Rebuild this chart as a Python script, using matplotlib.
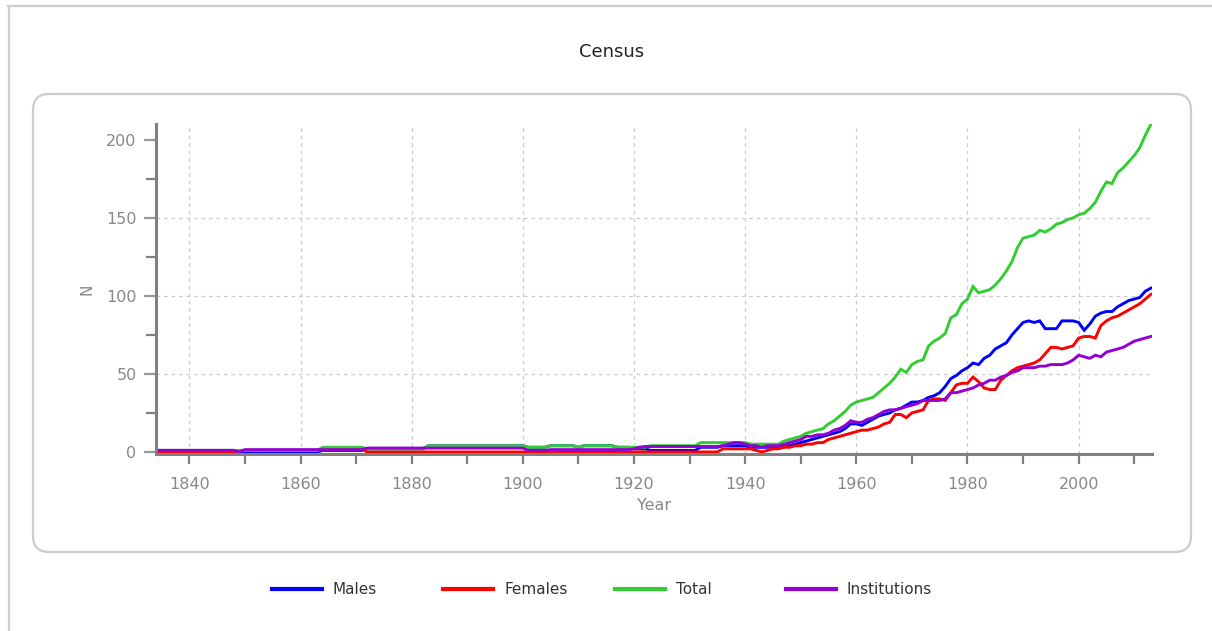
import matplotlib
matplotlib.use('Agg')
import matplotlib.pyplot as plt
from matplotlib.patches import FancyBboxPatch
from matplotlib.lines import Line2D
from matplotlib.transforms import IdentityTransform
from matplotlib.ticker import MultipleLocator

plt.rcParams['font.family'] = ['DejaVu Sans']

years = list(range(1834, 2014))

# yearly counts 1834..2013, one row per decade-ish block
males = (
    [1] * 15 + [0] * 15 + [1] * 8 + [2] * 11 + [4] * 18
    + [3] * 4 + [4] * 5 + [3] + [4] * 6 + [3] * 3 + [2] * 3 + [1] * 9
    + [3] * 4 + [4] * 5 + [3] * 5
    + [3, 4, 4, 5, 6, 7, 8, 9, 10, 11, 12, 13, 15, 18,
       18, 17, 19, 21, 23, 24, 25, 27, 28, 30,
       32, 32, 33, 35, 36, 38, 42, 47, 49, 52,
       54, 57, 56, 60, 62, 66, 68, 70, 75, 79,
       83, 84, 83, 84, 79, 79, 79, 84, 84, 84,
       83, 78, 82, 87, 89, 90, 90, 93, 95, 97,
       98, 99, 103, 105]
)
females = (
    [0] * 15 + [1] * 15 + [2] * 8 + [0] * 64
    + [2] * 6 + [1, 0, 1, 2]
    + [2, 3, 3, 4, 4, 5, 5, 6, 6, 8, 9, 10, 11, 12,
       13, 14, 14, 15, 16, 18, 19, 24, 24, 22,
       25, 26, 27, 33, 34, 34, 33, 38, 43, 44,
       44, 48, 45, 41, 40, 40, 46, 49, 52, 54,
       55, 56, 57, 59, 63, 67, 67, 66, 67, 68,
       73, 74, 74, 73, 81, 84, 86, 87, 89, 91,
       93, 95, 98, 101]
)
total = (
    [1] * 15 + [1] * 15 + [3] * 8 + [2] * 11 + [4] * 18
    + [3] * 4 + [4] * 5 + [3] + [4] * 6 + [3] * 3 + [3] * 3 + [4] * 9
    + [6] * 4 + [6] * 5 + [5] * 5
    + [5, 7, 8, 9, 10, 12, 13, 14, 15, 18, 20, 23, 26, 30,
       32, 33, 34, 35, 38, 41, 44, 48, 53, 51,
       56, 58, 59, 68, 71, 73, 76, 86, 88, 95,
       98, 106, 102, 103, 104, 107, 111, 116, 122, 131,
       137, 138, 139, 142, 141, 143, 146, 147, 149, 150,
       152, 153, 156, 160, 167, 173, 172, 179, 182, 186,
       190, 195, 203, 210]
)
institutions = (
    [1] * 15 + [0] + [1.5] * 22 + [2.5] * 29
    + [1] * 4 + [1.5] * 15 + [2, 3] + [3.5] * 14
    + [4, 5, 6, 6, 5, 4, 4, 3, 4, 4]
    + [4, 5, 6, 7, 8, 10, 10, 11, 11, 12, 14, 15, 17, 20,
       19, 19, 21, 22, 24, 26, 27, 27, 28, 29,
       30, 31, 33, 33, 33, 33, 34, 38, 38, 39,
       40, 41, 43, 44, 46, 46, 48, 49, 51, 52,
       54, 54, 54, 55, 55, 56, 56, 56, 57, 59,
       62, 61, 60, 62, 61, 64, 65, 66, 67, 69,
       71, 72, 73, 74]
)

series = [
    ('Males', males, '#0000ff'),
    ('Females', females, '#ff0000'),
    ('Total', total, '#32cd32'),
    ('Institutions', institutions, '#9400d3'),
]

W, H = 1212, 631
fig = plt.figure(figsize=(W / 100, H / 100), dpi=100)

# outer frame (top and left edges) and rounded chart panel
fig.add_artist(Line2D([8, W], [H - 6, H - 6], color='#cccccc', lw=1.6,
                      transform=IdentityTransform()))
fig.add_artist(Line2D([9, 9], [0, H - 6], color='#cccccc', lw=1.6,
                      transform=IdentityTransform()))
fig.add_artist(FancyBboxPatch((33, H - 552), 1158, 458,
                              boxstyle='round,pad=0,rounding_size=16',
                              fc='none', ec='#cccccc', lw=1.6,
                              transform=IdentityTransform()))

ax = fig.add_axes([156 / W, (H - 454.3) / H, 996 / W, 330 / H])
for name, vals, c in series:
    ax.plot(years, vals, color=c, lw=2.1, label=name, solid_joinstyle='miter')

ax.set_xlim(1834, 2013.2)
ax.set_ylim(-1.5, 210)
ax.xaxis.set_major_locator(MultipleLocator(20))
ax.xaxis.set_minor_locator(MultipleLocator(10))
ax.yaxis.set_major_locator(MultipleLocator(50))
ax.yaxis.set_minor_locator(MultipleLocator(25))

for s in ['top', 'right']:
    ax.spines[s].set_visible(False)
for s in ['left', 'bottom']:
    ax.spines[s].set_color('#808080')
    ax.spines[s].set_linewidth(2.2)

ax.tick_params(axis='x', which='both', direction='out', length=7, width=1.6,
               color='#808080', labelsize=11.5, labelcolor='#888888', pad=9)
ax.tick_params(axis='y', which='major', direction='out', length=9, width=1.6,
               color='#999999', labelsize=11.5, labelcolor='#888888', pad=5)
ax.tick_params(axis='y', which='minor', direction='out', length=7, width=1.6,
               color='#808080')

# dashed grid: all vertical lines, horizontal only at 50/100/150
ax.grid(True, axis='x', which='major', color='#cccccc', ls=(0, (3, 3)), lw=0.9)
for gy in (50, 100, 150):
    ax.axhline(gy, color='#cccccc', ls=(0, (3, 3)), lw=0.9, zorder=0.5)
ax.set_axisbelow(True)
ax.set_xticks(range(1840, 2001, 20))
ax.set_yticks([0, 50, 100, 150, 200])

ax.set_xlabel('Year', fontsize=11.5, color='#888888', labelpad=5)
ax.set_ylabel('N', fontsize=11, color='#888888', labelpad=8)

fig.text(612 / W, 1 - 52 / H, 'Census', ha='center', va='center',
         fontsize=13, color='#222222')

# legend row under the panel
leg_y = H - 589
for i, (name, vals, c) in enumerate(series):
    x0 = 272 + i * 171.3
    fig.add_artist(Line2D([x0, x0 + 50], [leg_y, leg_y], color=c, lw=3,
                          transform=IdentityTransform()))
    fig.text((x0 + 61) / W, leg_y / H, name, ha='left', va='center',
             fontsize=11, color='#333333')

fig.savefig('out.png', dpi=100)
